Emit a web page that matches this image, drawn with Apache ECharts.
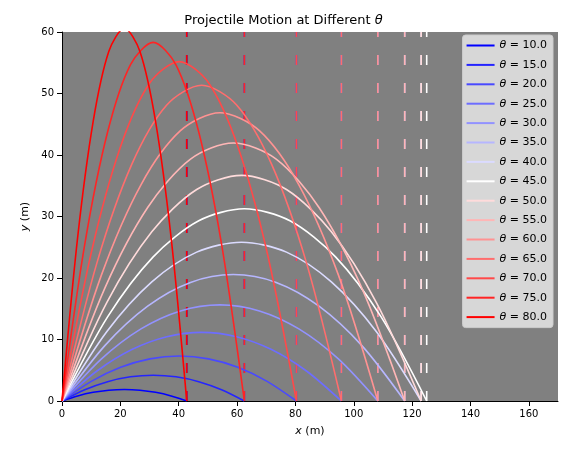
<!DOCTYPE html>
<html><head><meta charset="utf-8">
<script src="https://cdn.jsdelivr.net/npm/echarts@6/dist/echarts.min.js"></script>
<style>html,body{margin:0;padding:0;background:#fff}#c{width:567px;height:457px}</style>
</head><body><div id="c"></div>
<script>
const angles = [10,15,20,25,30,35,40,45,50,55,60,65,70,75,80];
const ranges = [42.75,62.5,80.35,95.76,108.25,117.46,123.1,125,123.1,117.46,108.25,95.76,80.35,62.5,42.75];
// heights read at 9 evenly spaced points along each range
const heights = [
 [0,0.82,1.41,1.76,1.88,1.76,1.41,0.82,0],
 [0,1.83,3.14,3.93,4.19,3.93,3.14,1.83,0],
 [0,3.20,5.48,6.85,7.31,6.85,5.48,3.20,0],
 [0,4.88,8.37,10.46,11.16,10.46,8.37,4.88,0],
 [0,6.84,11.72,14.65,15.63,14.65,11.72,6.84,0],
 [0,9.0,15.42,19.28,20.56,19.28,15.42,9.0,0],
 [0,11.30,19.37,24.21,25.82,24.21,19.37,11.30,0],
 [0,13.67,23.44,29.30,31.25,29.30,23.44,13.67,0],
 [0,16.05,27.51,34.39,36.68,34.39,27.51,16.05,0],
 [0,18.35,31.46,39.32,41.94,39.32,31.46,18.35,0],
 [0,20.51,35.16,43.95,46.88,43.95,35.16,20.51,0],
 [0,22.46,38.51,48.13,51.34,48.13,38.51,22.46,0],
 [0,24.15,41.39,51.74,55.19,51.74,41.39,24.15,0],
 [0,25.51,43.73,54.67,58.31,54.67,43.73,25.51,0],
 [0,26.52,45.47,56.83,60.62,56.83,45.47,26.52,0]
];
const colors = ['#0000ff','#2424ff','#4949ff','#6d6dff','#9292ff','#b6b6ff','#dbdbff','#ffffff','#ffdbdb','#ffb6b6','#ff9292','#ff6d6d','#ff4949','#ff2424','#ff0000'];
const names = angles.map(a => 'θ = ' + a.toFixed(1));
const series = [];
angles.forEach((a,i) => {
  const pts = heights[i].map((h,k) => [ranges[i]*k/8, h]);
  series.push({name:names[i], type:'line', data:pts, smooth:0.3, showSymbol:false, symbol:'none',
    lineStyle:{color:colors[i], width:1.6}, itemStyle:{color:colors[i]}, z:3});
});
angles.forEach((a,i) => {
  series.push({name:'d'+i, type:'line', data:[[ranges[i],0],[ranges[i],60]], showSymbol:false, symbol:'none',
    lineStyle:{color:colors[i], width:1.6, type:[10,18]}, z:2, silent:true});
});
const chart = echarts.init(document.getElementById('c'));
chart.setOption({
  animation:false,
  title:{text:'{a|Projectile Motion at Different }{b|θ}', left:'center', top:9,
    textStyle:{rich:{a:{fontSize:13,fontWeight:'normal',color:'#000',fontFamily:'DejaVu Sans'},b:{fontSize:13,fontWeight:'normal',fontStyle:'italic',color:'#000',fontFamily:'DejaVu Sans'}}}},
  grid:{left:62, right:9, top:32, bottom:56, backgroundColor:'#808080', show:true, borderWidth:0},
  xAxis:{type:'value', min:0, max:170, interval:20, name:'{i|x} (m)', nameLocation:'middle', nameGap:25,
    nameTextStyle:{fontSize:11,color:'#000',fontFamily:'DejaVu Sans',rich:{i:{fontStyle:'italic',fontSize:11,fontFamily:'DejaVu Sans'}}},
    axisLine:{show:true,onZero:false,lineStyle:{color:'#000'}}, axisTick:{show:true,lineStyle:{color:'#000'}},
    axisLabel:{color:'#000',fontSize:10,fontFamily:'DejaVu Sans',showMaxLabel:false}, splitLine:{show:false}},
  yAxis:{type:'value', min:0, max:60, interval:10, name:'{i|y} (m)', nameLocation:'middle', nameGap:30,
    nameTextStyle:{fontSize:11,color:'#000',fontFamily:'DejaVu Sans',rich:{i:{fontStyle:'italic',fontSize:11,fontFamily:'DejaVu Sans'}}},
    axisLine:{show:true,lineStyle:{color:'#000'}}, axisTick:{show:true,lineStyle:{color:'#000'}},
    axisLabel:{color:'#000',fontSize:10,fontFamily:'DejaVu Sans'}, splitLine:{show:false}},
  legend:{data:names, orient:'vertical', right:14, top:35, itemGap:8.4, itemWidth:28, itemHeight:10,
    backgroundColor:'rgba(230,230,230,0.85)', borderColor:'#ccc', borderWidth:1, borderRadius:3, padding:[5,6,5,4],
    icon:'path://M0,4L28,4L28,6L0,6Z',
    formatter: n => '{i|θ}{t|' + n.slice(1) + '}',
    textStyle:{rich:{i:{fontStyle:'italic',fontSize:11,fontFamily:'DejaVu Sans',color:'#000'},t:{fontSize:11,fontFamily:'DejaVu Sans',color:'#000'}}}},
  series
});
</script></body></html>
